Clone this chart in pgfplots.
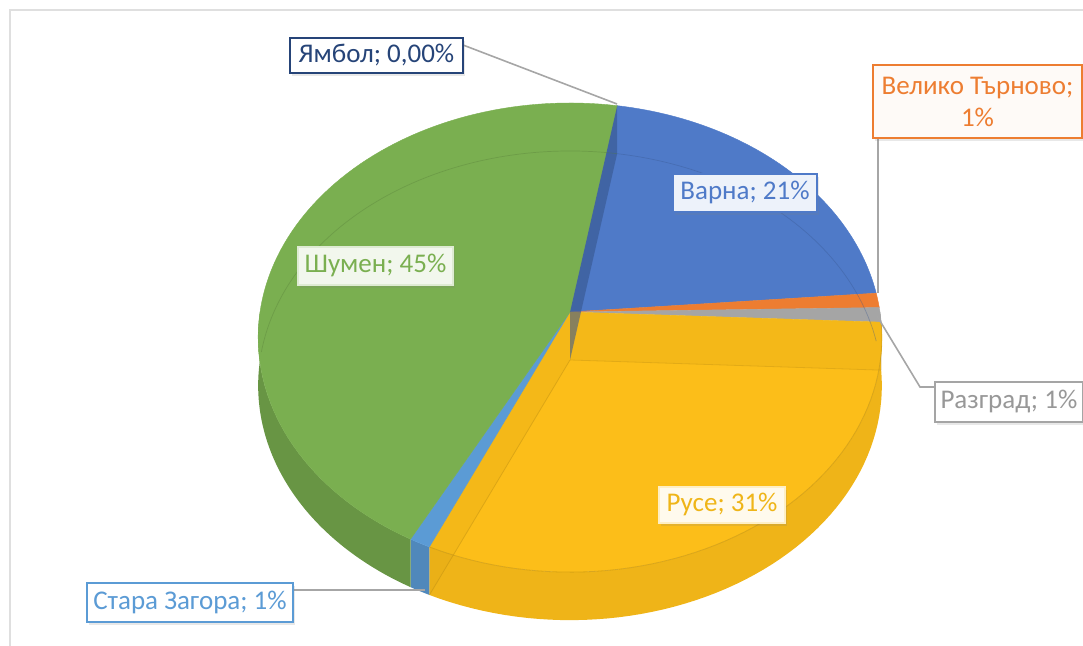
\documentclass[border=0pt]{standalone}
\usepackage{fontspec}
\setmainfont{Carlito}
\usepackage{pgfplots}
\pgfplotsset{compat=1.18}
\usepgfplotslibrary{fillbetween}
\usetikzlibrary{shadows}

\definecolor{cVarna}{RGB}{79,122,200}
\definecolor{cVT}{RGB}{237,125,49}
\definecolor{cRaz}{RGB}{165,165,165}
\definecolor{cRuse}{RGB}{252,190,25}
\definecolor{cSZ}{RGB}{91,155,213}
\definecolor{cShumen}{RGB}{122,175,80}
\definecolor{cYambol}{RGB}{38,68,120}
\definecolor{cLead}{RGB}{166,166,166}

% geometry of the 3D pie (pixel units)
\def\cx{570}\def\cy{334}\def\rx{310}\def\ry{231.8}\def\kk{0.109}\def\dd{48}
\newcommand\PX[1]{\cx+\rx*sin(#1)/(1+\kk*cos(#1))}
\newcommand\PY[1]{\cy+\ry*cos(#1)/(1+\kk*cos(#1))}

% data: percentages, clockwise from first slice
\def\vVarna{21}\def\vVT{1}\def\vRaz{1}\def\vRuse{31}\def\vSZ{1}\def\vShumen{45}\def\vYambol{0}
\pgfmathsetmacro\aA{9.7}
\pgfmathsetmacro\aB{\aA+\vVarna*3.6}
\pgfmathsetmacro\aC{\aB+\vVT*3.6}
\pgfmathsetmacro\aD{\aC+\vRaz*3.6}
\pgfmathsetmacro\aE{\aD+\vRuse*3.6}
\pgfmathsetmacro\aF{\aE+\vSZ*3.6}
\pgfmathsetmacro\aG{\aF+\vShumen*3.6}

\pgfmathsetmacro\xA{\PX{\aA}}\pgfmathsetmacro\yA{\PY{\aA}}\pgfmathsetmacro\yAb{\yA-\dd}
\pgfmathsetmacro\xD{\PX{\aD}}\pgfmathsetmacro\yD{\PY{\aD}}\pgfmathsetmacro\yDb{\yD-\dd}
\pgfmathsetmacro\xE{\PX{\aE}}\pgfmathsetmacro\yE{\PY{\aE}}\pgfmathsetmacro\yEb{\yE-\dd}
\pgfmathsetmacro\cyb{\cy-\dd}

\newcommand\pieslice[3]{\addplot[fill=#3, draw=#3, line width=0.2pt, domain=#1:#2, samples=90] ({\PX{x}},{\PY{x}}) -- (\cx,\cy) -- cycle;}
\newcommand\piewall[4]{%
 \addplot[draw=none, name path=#4t, domain=#1:#2, samples=60] ({\PX{x}},{\PY{x}});
 \addplot[draw=none, name path=#4b, domain=#1:#2, samples=60] ({\PX{x}},{\PY{x}-\dd});
 \addplot[fill=#3, draw=none] fill between[of=#4t and #4b];}

\tikzset{lbl/.style={font=\fontsize{13.5}{16}\selectfont, inner xsep=3pt, inner ysep=2pt,
  text height=9.5pt, text depth=2.7pt, line width=0.9pt,
  drop shadow={shadow xshift=1.2pt, shadow yshift=-1.5pt, opacity=0.18}}}

\begin{document}
\begin{tikzpicture}
\begin{axis}[width=541.5pt, height=323pt, scale only axis, xmin=0, xmax=1083, ymin=0, ymax=646,
  hide axis, clip=false]
% frame of chart area
\draw[gray!25, line width=0.6pt] (10,0) -- (10,636) -- (1083,636);
% side walls (front half)
\piewall{90}{\aD}{cRaz!80!black}{wr}
\piewall{\aD}{\aE}{cRuse!95!black}{wu}
\piewall{\aE}{\aF}{cSZ!88!black}{ws}
\piewall{\aF}{270}{cShumen!85!black}{wh}
% top faces
\pieslice{\aA}{\aB}{cVarna}
\pieslice{\aB}{\aC}{cVT}
\pieslice{\aC}{\aD}{cRaz}
\pieslice{\aD}{\aE}{cRuse}
\pieslice{\aE}{\aF}{cSZ}
\pieslice{\aF}{\aG}{cShumen}
% translucent inner faces and edges
\addplot[fill=cVarna!75!black, draw=none, fill opacity=0.7] coordinates {(\cx,\cy) (\xA,\yA) (\xA,\yAb) (\cx,\cyb)} -- cycle;
\addplot[fill=cRuse!85!black, draw=none, fill opacity=0.2] coordinates {(\cx,\cy) (\xD,\yD) (\xD,\yDb) (\cx,\cyb)} -- cycle;
\addplot[draw=cRuse!80!black, line width=0.4pt, opacity=0.45] coordinates {(\cx,\cyb) (\xD,\yDb)};
\addplot[fill=cRuse!85!black, draw=none, fill opacity=0.2] coordinates {(\cx,\cy) (\xE,\yE) (\xE,\yEb) (\cx,\cyb)} -- cycle;
\addplot[draw=cRuse!75!black, line width=0.4pt, opacity=0.45] coordinates {(\cx,\cyb) (\xE,\yEb)};
\addplot[draw=cShumen!70!black, line width=0.35pt, opacity=0.35, domain=272:\aG, samples=80] ({\PX{x}},{\PY{x}-\dd});
\addplot[draw=cVarna!70!black, line width=0.35pt, opacity=0.35, domain=\aA:\aB, samples=60] ({\PX{x}},{\PY{x}-\dd});
\addplot[draw=cRuse!70!black, line width=0.4pt, opacity=0.45, domain=\aD:\aE, samples=60] ({\PX{x}},{\PY{x}});

% leader lines
\draw[cLead, line width=0.8pt] (463,601) -- (617,542);
\draw[cLead, line width=0.8pt] (878,508) -- (878,353);
\draw[cLead, line width=0.8pt] (877,330) -- (920,259) -- (934,259);
\draw[cLead, line width=0.8pt] (293,56) -- (425,56);

% labels
\node[lbl, draw=cYambol, fill=white, text=cYambol, line width=1.3pt, minimum width=86.5pt, minimum height=17.5pt] at (376.5,590.5) {Ямбол; 0,00\%};
\node[lbl, draw=cVT, fill=cVT!4!white, text=cVT, line width=1pt, minimum width=104.5pt, minimum height=36.5pt, align=center, text height=, text depth=] at (977.5,544.5) {Велико Търново;\\1\%};
\node[lbl, draw=cRaz, fill=white, text=cRaz!92!black, anchor=west, inner xsep=2.5pt, minimum width=74pt, minimum height=20pt] at (934,244) {Разград; 1\%};
\node[lbl, draw=cSZ, fill=white, text=cSZ, minimum width=103pt, minimum height=19.5pt] at (190,43.5) {Стара Загора; 1\%};
\node[lbl, draw=cVarna, fill=cVarna!10!white, text=cVarna, line width=0.8pt, minimum width=72pt, minimum height=19pt] at (745,453) {Варна; 21\%};
\node[lbl, draw=cShumen!25!white, fill=cShumen!10!white, text=cShumen, minimum width=77.5pt, minimum height=19pt] at (375.5,380) {Шумен; 45\%};
\node[lbl, draw=cRuse!25!white, fill=cRuse!8!white, text=cRuse!95!black, minimum width=63pt, minimum height=18pt] at (722,141) {Русе; 31\%};
\end{axis}
\pgfresetboundingbox
\path (current axis.south west) rectangle (current axis.north east);
\end{tikzpicture}
\end{document}
